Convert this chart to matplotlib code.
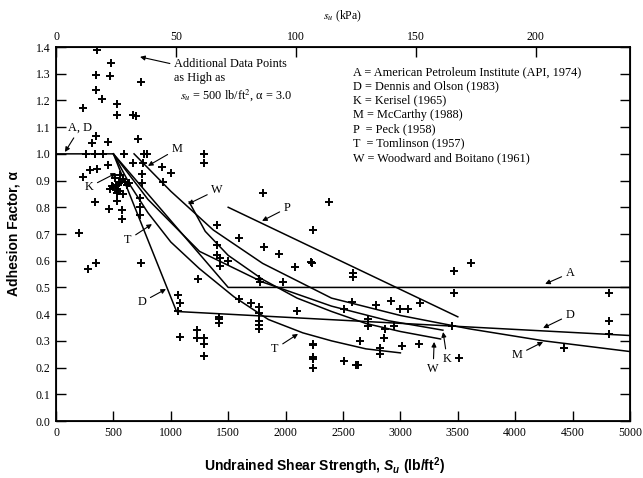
import matplotlib
matplotlib.use("Agg")
import matplotlib.pyplot as plt

plt.rcParams['mathtext.fontset'] = 'custom'
plt.rcParams['mathtext.rm'] = 'Liberation Sans:bold'
plt.rcParams['mathtext.it'] = 'Liberation Sans:italic:bold'
plt.rcParams['mathtext.bf'] = 'Liberation Sans:bold'

SERIF = 'Liberation Serif'
SANS = 'Liberation Sans'

# data (su in lb/ft2, alpha)
A_su = [0, 500, 1500, 5000]
A_alpha = [1.0, 1.0, 0.5, 0.5]
D_su = [500, 1050, 5000]
D_alpha = [1.0, 0.41, 0.32]
P_su = [1500, 3500]
P_alpha = [0.80, 0.39]
T_su = [500, 650, 800, 1000, 1250, 1550, 1850, 2150, 2400, 2700, 3000]
T_alpha = [1.0, 0.88, 0.78, 0.67, 0.57, 0.465, 0.38, 0.33, 0.30, 0.27, 0.255]
K_su = [500, 800, 1250, 1800, 2400, 2900, 3370]
K_alpha = [1.0, 0.83, 0.635, 0.52, 0.43, 0.375, 0.34]
W_su = [1160, 1300, 1500, 1800, 2100, 2400, 2700, 3000, 3350]
W_alpha = [0.82, 0.71, 0.62, 0.53, 0.46, 0.41, 0.365, 0.335, 0.307]
M_su = [680, 1000, 1370, 1800, 2400, 3000, 3600, 4250, 5000]
M_alpha = [1.0, 0.86, 0.715, 0.59, 0.46, 0.395, 0.345, 0.30, 0.26]

pts_su = [360, 480, 350, 470, 740, 350, 400, 235, 530, 530, 670, 700, 350, 315, 455, 715,
          260, 340, 410, 590, 765, 795,
          670, 760, 925, 1000, 935, 235, 300, 355, 455, 750, 750, 340, 460, 530, 530, 575, 575,
          200, 735, 735, 735,
          490, 520, 545, 570, 585, 600, 640, 470, 500, 530, 560, 510, 620, 540, 580,
          1290, 1290, 1800, 1405, 1590, 1815, 2240, 2380,
          280, 350, 740, 1240, 1405, 1405, 1430, 1430, 1500, 1945, 2085, 2230,
          1595, 1700, 1765, 1765, 1765, 1765, 1765, 1765, 1780, 2100, 1980,
          1065, 1080, 1065, 1080, 1230, 1230, 1290, 1290, 1290, 1420, 1420, 1420,
          2240, 2240, 2240, 2240, 2240,
          2225, 2590, 2590, 2575, 2505, 2790, 2920, 3000, 3070, 3170, 2715, 2720, 2870, 2860,
          2940, 2645, 2820, 2820, 3010, 3160, 2505, 2610, 2635,
          3465, 3615, 3465, 3450, 3510, 4425, 4815, 4815, 4815]
pts_alpha = [1.39, 1.34, 1.295, 1.29, 1.27, 1.24, 1.205, 1.17, 1.185, 1.145, 1.145, 1.14, 1.065, 1.04, 1.045, 1.055,
             1.0, 1.0, 1.0, 1.0, 1.0, 1.0,
             0.965, 0.965, 0.95, 0.93, 0.895, 0.915, 0.94, 0.945, 0.96, 0.925, 0.89, 0.82, 0.795, 0.855, 0.825, 0.79, 0.755,
             0.705, 0.835, 0.80, 0.77,
             0.88, 0.885, 0.89, 0.895, 0.905, 0.895, 0.89, 0.87, 0.875, 0.87, 0.92, 0.91, 0.885, 0.86, 0.85,
             1.0, 0.965, 0.855, 0.735, 0.685, 0.65, 0.715, 0.82,
             0.57, 0.59, 0.59, 0.53, 0.66, 0.62, 0.61, 0.58, 0.60, 0.625, 0.575, 0.59,
             0.455, 0.44, 0.425, 0.405, 0.375, 0.36, 0.345, 0.53, 0.52, 0.41, 0.52,
             0.47, 0.44, 0.41, 0.315, 0.34, 0.31, 0.31, 0.29, 0.245, 0.39, 0.38, 0.365,
             0.29, 0.283, 0.24, 0.233, 0.198,
             0.595, 0.555, 0.54, 0.445, 0.42, 0.435, 0.45, 0.42, 0.42, 0.44, 0.38, 0.355, 0.345, 0.31,
             0.355, 0.30, 0.275, 0.25, 0.28, 0.29, 0.225, 0.21, 0.21,
             0.56, 0.59, 0.48, 0.355, 0.235, 0.275, 0.48, 0.375, 0.325]

legend_lines = ["A = American Petroleum Institute (API, 1974)",
                "D = Dennis and Olson (1983)",
                "K = Kerisel (1965)",
                "M = McCarthy (1988)",
                "P  = Peck (1958)",
                "T  = Tomlinson (1957)",
                "W = Woodward and Boitano (1961)"]

fig = plt.figure(figsize=(6.43, 4.78), dpi=100)
ax = fig.add_axes([56 / 643, 1 - 421 / 478, 574 / 643, 374 / 478])

for xs, ys in [(A_su, A_alpha), (D_su, D_alpha), (P_su, P_alpha), (T_su, T_alpha),
               (K_su, K_alpha), (W_su, W_alpha), (M_su, M_alpha)]:
    ax.plot(xs, ys, color='black', lw=1.1)

ax.plot(pts_su, pts_alpha, linestyle='none', marker='+', color='black', ms=6, mew=1.4)

ax.set_xlim(0, 5000)
ax.set_ylim(0, 1.4)
ax.set_xticks(range(0, 5001, 500))
ax.set_yticks([i / 10 for i in range(15)])
ax.set_yticklabels(['%.1f' % (i / 10) for i in range(15)])
ax.tick_params(direction='in', length=7, width=1, labelsize=8.5, right=True, pad=4)
for lab in ax.get_xticklabels() + ax.get_yticklabels():
    lab.set_family(SERIF)
for s in ax.spines.values():
    s.set_linewidth(1.3)

# kPa axis on top
ax2 = ax.twiny()
ax2.set_xlim(0, 5000 / 20.885)
ax2.set_xticks([0, 50, 100, 150, 200])
ax2.tick_params(direction='in', length=7, width=1, labelsize=8.5, pad=3)
for lab in ax2.get_xticklabels():
    lab.set_family(SERIF)
fig.text(342 / 643, 1 - 16 / 478, r'$s_u$ (kPa)', family=SERIF, fontsize=8.5,
         ha='center', va='center', math_fontfamily='stix')

fig.text(14 / 643, 1 - 234 / 478, 'Adhesion Factor, α', family=SANS, fontweight='bold',
         fontsize=10, rotation=90, ha='center', va='center')
fig.text(324 / 643, 1 - 466 / 478, r'Undrained Shear Strength, $S_u$ (lb/ft$^2$)', family=SANS,
         fontweight='bold', fontsize=10, ha='center', va='center')

# legend block
for i, line in enumerate(legend_lines):
    ax.text(2587, 1.306 - i * 0.0535, line, family=SERIF, fontsize=8.8, ha='left', va='center')

arrow = dict(arrowstyle='-|>', color='black', lw=0.8, mutation_scale=7, shrinkA=1, shrinkB=0)
ax.annotate('Additional Data Points\nas High as\n  $s_u$ = 500 lb/ft$^2$, α = 3.0',
            xy=(732, 1.363), xytext=(1028, 1.36), family=SERIF, fontsize=8.8,
            ha='left', va='top', linespacing=1.25, math_fontfamily='stix',
            arrowprops=dict(arrow, relpos=(0.0, 0.85)))

curve_labels = [
    ('A, D', (209, 1.097), (78, 1.007)),
    ('M', (1054, 1.018), (801, 0.955)),
    ('K', (288, 0.876), (523, 0.928)),
    ('W', (1403, 0.865), (1150, 0.812)),
    ('P', (2013, 0.797), (1795, 0.749)),
    ('T', (627, 0.678), (836, 0.737)),
    ('D', (749, 0.445), (958, 0.494)),
    ('T', (1908, 0.27), (2108, 0.326)),
    ('A', (4478, 0.554), (4261, 0.513)),
    ('D', (4478, 0.397), (4243, 0.348)),
    ('M', (4017, 0.247), (4243, 0.296)),
    ('W', (3285, 0.195), (3294, 0.296)),
    ('K', (3407, 0.232), (3372, 0.333)),
]
for txt, tpos, apos in curve_labels:
    ax.annotate(txt, xy=apos, xytext=tpos, family=SERIF, fontsize=8.8,
                ha='center', va='center', arrowprops=arrow)

fig.savefig('out.png', dpi=100)
